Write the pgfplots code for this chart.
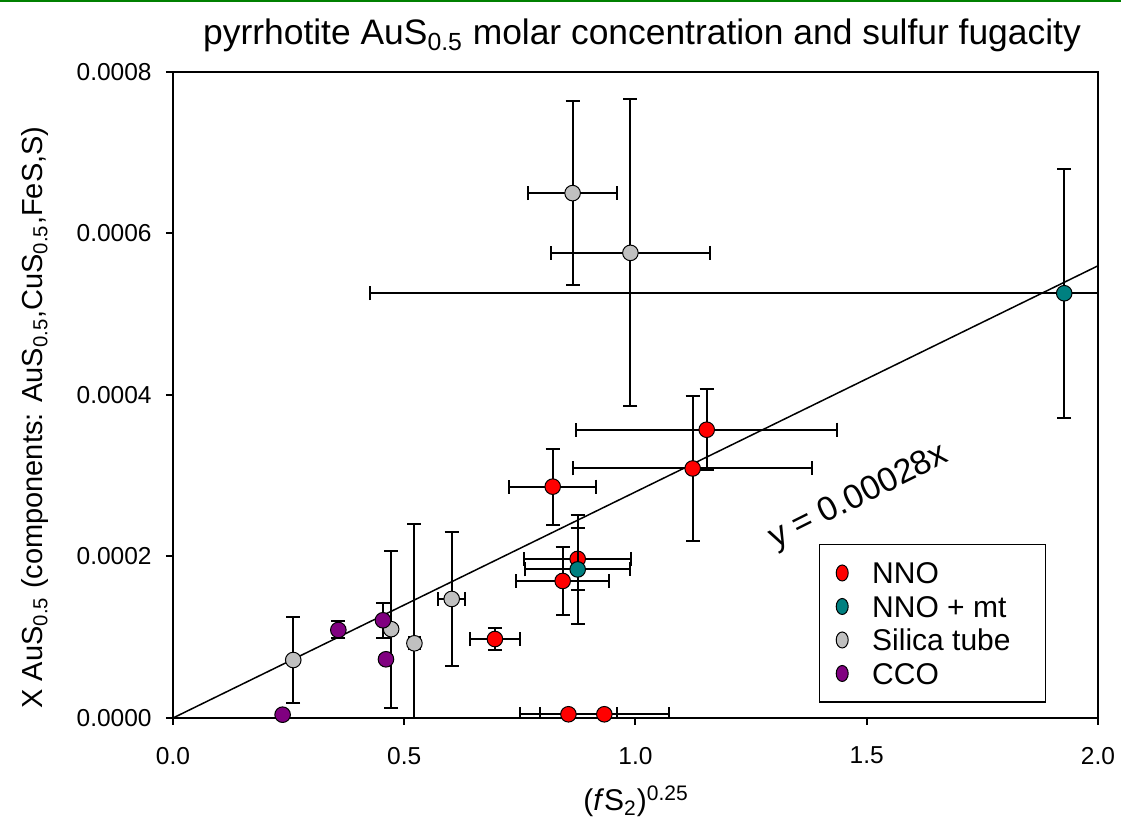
\documentclass[border=0pt]{standalone}
\usepackage{fontspec}
\setmainfont{Liberation Sans}
\usepackage{pgfplots}
\pgfplotsset{compat=1.18}
\usepackage{pgfplotstable}
\definecolor{nno}{RGB}{255,0,0}
\definecolor{mt}{RGB}{0,128,128}
\definecolor{sil}{RGB}{192,192,192}
\definecolor{cco}{RGB}{128,0,128}
\definecolor{topgreen}{RGB}{0,128,0}

\pgfplotstableread{
x y ex ey
0.696 0.0000978 0.054 0.0000138
0.855 0.0000046 0.105 0
0.9326 0.0000046 0.140 0
0.821 0.0002865 0.094 0.000047
0.875 0.000197 0.115 0.000038
0.8425 0.0001697 0.101 0.0000425
1.154 0.000357 0.282 0.00005
1.1236 0.000309 0.259 0.0000892
}\nnotab

\pgfplotstableread{
x y ex ey
0.875 0.000184 0.113 0.000068
1.927 0.000526 1.50 0.000154
}\mttab

\pgfplotstableread{
x y ex ey
0.864 0.00065 0.096 0.000114
0.989 0.000576 0.172 0.00019
0.260 0.0000718 0 0.0000536
0.4717 0.00011 0.008 0.0000972
0.522 0.0000925 0.012 0.000148
0.6026 0.0001474 0.0296 0.000083
}\siltab

\pgfplotstableread{
x y ex ey
0.237 0.0000041 0 0
0.3575 0.000109 0.005 0.0000105
0.454 0.000121 0.006 0.0000219
0.4605 0.0000727 0.006 0.000005
}\ccotab

\newcommand{\legimg}[1]{\addlegendimage{legend image code/.code={%
  \path[draw=none,fill=none] (-3pt,0pt) -- (15pt,0pt);%
  \draw[black,line width=0.5pt,fill=#1] (0pt,0pt) ellipse [x radius=3pt,y radius=4pt];}}}
\newcommand{\legtxt}[1]{\makebox[78.6pt][l]{#1}}

\begin{document}
\begin{tikzpicture}
\path[use as bounding box] (-86.5pt,-58pt) rectangle (474pt,359pt);
\draw[topgreen, line width=1pt] (-86.5pt,358.5pt) -- (474pt,358.5pt);
\begin{axis}[
  at={(0,0)}, anchor=south west,
  scale only axis, width=462.5pt, height=323pt,
  xmin=0, xmax=2, ymin=0, ymax=0.0008,
  xtick={0,0.5,1,1.5,2}, xticklabels={0.0,0.5,1.0,1.5,2.0},
  ytick={0,0.0002,0.0004,0.0006,0.0008},
  yticklabels={0.0000,0.0002,0.0004,0.0006,0.0008},
  scaled y ticks=false, scaled x ticks=false,
  tick pos=left, tick align=outside, major tick length=3.5pt,
  minor tick num=0,
  axis line style={line width=1pt},
  every tick/.style={black, line width=1pt},
  tick label style={font=\fontsize{12.25}{14}\selectfont},
  yticklabel style={inner xsep=0pt, xshift=-7pt},
  xticklabel style={inner ysep=0pt, yshift=-10.85pt},
  clip mode=individual,
  legend cell align=left,
  legend style={at={(0.9438,0.0237)}, anchor=south east, draw=black, line width=0.6pt,
    font=\fontsize{15}{17}\selectfont, inner xsep=8pt, inner ysep=8.8pt,
    row sep=5.75pt, column sep=0pt,
    nodes={inner sep=0pt, text height=11pt, text depth=0pt}},
  error bars/error bar style={black, line width=1pt},
  error bars/error mark options={black, line width=1pt, mark size=3.5pt, rotate=90},
]
\addplot[black, line width=0.75pt, forget plot] coordinates {(0,0) (2,0.00056)};

\addplot[forget plot, only marks, mark=*, mark size=3.9pt, mark options={draw=black, fill=nno, line width=0.5pt},
  error bars/.cd, x dir=both, x explicit, y dir=both, y explicit]
  table[x=x, y=y, x error=ex, y error=ey] {\nnotab};

\addplot[forget plot, only marks, mark=*, mark size=3.9pt, mark options={draw=black, fill=mt, line width=0.5pt},
  error bars/.cd, x dir=both, x explicit, y dir=both, y explicit]
  table[x=x, y=y, x error=ex, y error=ey] {\mttab};

\addplot[forget plot, only marks, mark=*, mark size=3.9pt, mark options={draw=black, fill=sil, line width=0.5pt},
  error bars/.cd, x dir=both, x explicit, y dir=both, y explicit]
  table[x=x, y=y, x error=ex, y error=ey] {\siltab};

\addplot[forget plot, only marks, mark=*, mark size=3.9pt, mark options={draw=black, fill=cco, line width=0.5pt},
  error bars/.cd, x dir=both, x explicit, y dir=both, y explicit]
  table[x=x, y=y, x error=ex, y error=ey] {\ccotab};

\legimg{nno}\addlegendentry{\legtxt{NNO}}
\legimg{mt}\addlegendentry{\legtxt{NNO + mt}}
\legimg{sil}\addlegendentry{\legtxt{Silica tube}}
\legimg{cco}\addlegendentry{\legtxt{CCO}}

\node[rotate=26.5, font=\fontsize{17}{19}\selectfont] at (axis cs:1.483,0.000273) {y = 0.00028x};
\end{axis}
\node[anchor=base, font=\fontsize{17.7}{20}\selectfont] at (234.5pt,336.5pt)
  {pyrrhotite AuS\textsubscript{0.5} molar concentration and sulfur fugacity};
\node[rotate=90, anchor=base, font=\fontsize{14.5}{17}\selectfont] at (-65pt,150.25pt)
  {X AuS\textsubscript{0.5} (components: AuS\textsubscript{0.5},CuS\textsubscript{0.5},FeS,S)};
\node[anchor=base, font=\fontsize{15}{17}\selectfont] at (231.5pt,-46.5pt)
  {(\textit{f}S\textsubscript{2})\textsuperscript{0.25}};
\end{tikzpicture}
\end{document}
